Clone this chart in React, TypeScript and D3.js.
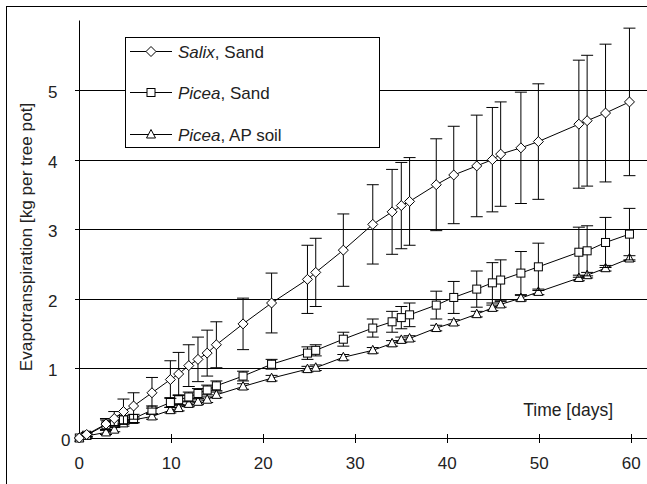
import React from "react";
import * as d3 from "d3";

const days = [0, 0.8, 2.9, 3.8, 4.8, 5.9, 7.9, 9.9, 10.8, 11.9, 12.9, 13.9, 14.9, 17.8, 20.9, 24.8, 25.7, 28.7, 31.9, 34.0, 35.0, 35.9, 38.8, 40.7, 43.2, 44.9, 45.8, 48.0, 49.9, 54.3, 55.2, 57.2, 59.8];

const salixSand = [0, 0.05, 0.2, 0.28, 0.38, 0.46, 0.65, 0.84, 0.92, 1.04, 1.13, 1.22, 1.34, 1.64, 1.94, 2.28, 2.38, 2.7, 3.07, 3.25, 3.34, 3.4, 3.64, 3.78, 3.91, 4.0, 4.08, 4.17, 4.26, 4.51, 4.56, 4.67, 4.83];
const salixSandErr = [0, 0.03, 0.08, 0.1, 0.18, 0.19, 0.22, 0.27, 0.31, 0.3, 0.32, 0.33, 0.33, 0.37, 0.43, 0.49, 0.49, 0.52, 0.57, 0.61, 0.62, 0.63, 0.66, 0.7, 0.73, 0.75, 0.75, 0.8, 0.83, 0.92, 0.94, 0.99, 1.06];

const piceaSand = [0, 0.04, 0.19, 0.22, 0.26, 0.28, 0.4, 0.51, 0.55, 0.59, 0.64, 0.69, 0.75, 0.89, 1.06, 1.22, 1.26, 1.42, 1.58, 1.67, 1.73, 1.77, 1.91, 2.02, 2.14, 2.23, 2.27, 2.37, 2.46, 2.67, 2.69, 2.81, 2.93];
const piceaSandErr = [0, 0.02, 0.07, 0.06, 0.06, 0.06, 0.06, 0.07, 0.07, 0.07, 0.07, 0.07, 0.07, 0.07, 0.07, 0.09, 0.08, 0.1, 0.13, 0.15, 0.16, 0.17, 0.2, 0.23, 0.26, 0.29, 0.29, 0.31, 0.34, 0.36, 0.36, 0.36, 0.37];

const piceaAP = [0, 0.03, 0.08, 0.12, 0.21, 0.26, 0.31, 0.4, 0.43, 0.49, 0.52, 0.55, 0.62, 0.74, 0.86, 0.99, 1.01, 1.16, 1.26, 1.36, 1.41, 1.43, 1.58, 1.66, 1.78, 1.87, 1.92, 2.01, 2.1, 2.3, 2.34, 2.44, 2.58];
const piceaAPErr = [0, 0.02, 0.03, 0.03, 0.04, 0.04, 0.04, 0.04, 0.04, 0.04, 0.04, 0.04, 0.04, 0.04, 0.04, 0.04, 0.04, 0.04, 0.04, 0.04, 0.04, 0.04, 0.04, 0.04, 0.04, 0.04, 0.04, 0.04, 0.04, 0.04, 0.04, 0.04, 0.04];

const xTicks = [0, 10, 20, 30, 40, 50, 60];
const yTicks = [0, 1, 2, 3, 4, 5];
const gridValues = [1, 2, 3, 4, 5];

const W = 647;
const H = 484;
const font = "'Liberation Sans', Arial, sans-serif";

const x = d3.scaleLinear().domain([0, 60]).range([79.3, 631.3]);
const y = d3.scaleLinear().domain([0, 6]).range([438, 20.5]);

function Marker({ kind, cx, cy }: { kind: string; cx: number; cy: number }) {
  if (kind === "diamond") {
    const r = 5;
    return (
      <polygon
        points={`${cx},${cy - r} ${cx + r},${cy} ${cx},${cy + r} ${cx - r},${cy}`}
        fill="#fff"
        stroke="#000"
        strokeWidth={1}
      />
    );
  }
  if (kind === "square") {
    return <rect x={cx - 4} y={cy - 4} width={8} height={8} fill="#fff" stroke="#000" strokeWidth={1} />;
  }
  return (
    <polygon
      points={`${cx},${cy - 5} ${cx + 4.5},${cy + 3.5} ${cx - 4.5},${cy + 3.5}`}
      fill="#fff"
      stroke="#000"
      strokeWidth={1}
    />
  );
}

function Series({ values, errs, kind }: { values: number[]; errs: number[]; kind: string }) {
  const line = d3
    .line<number>()
    .x((_, i) => x(days[i]))
    .y((d) => y(d));
  return (
    <g>
      {values.map((v, i) => {
        const e = errs[i];
        if (!e) return null;
        const cx = x(days[i]);
        return (
          <g key={i} stroke="#000" strokeWidth={1}>
            <line x1={cx} x2={cx} y1={y(v - e)} y2={y(v + e)} />
            <line x1={cx - 6} x2={cx + 6} y1={y(v + e)} y2={y(v + e)} />
            <line x1={cx - 6} x2={cx + 6} y1={y(v - e)} y2={y(v - e)} />
          </g>
        );
      })}
      <path d={line(values) || ""} fill="none" stroke="#000" strokeWidth={1} />
      {values.map((v, i) => (
        <Marker key={i} kind={kind} cx={x(days[i])} cy={y(v)} />
      ))}
    </g>
  );
}

const legendItems = [
  { kind: "diamond", name: "Salix", rest: ", Sand", cy: 51.5 },
  { kind: "square", name: "Picea", rest: ", Sand", cy: 92.5 },
  { kind: "triangle", name: "Picea", rest: ", AP soil", cy: 134.5 },
];

export default function App() {
  return (
    <svg
      width={W}
      height={H}
      style={{ position: "absolute", left: 0, top: 0, background: "#fff" }}
      fontFamily={font}
    >
      <rect x={0} y={0} width={W} height={H} fill="#fff" />
      <rect x={6.5} y={6.5} width={800} height={700} fill="none" stroke="#000" strokeWidth={1} />

      {/* gridlines */}
      {gridValues.map((v) => (
        <line key={v} x1={x(0)} x2={W} y1={Math.round(y(v)) + 0.5} y2={Math.round(y(v)) + 0.5} stroke="#000" strokeWidth={1} />
      ))}

      {/* axes */}
      <line x1={79.5} x2={79.5} y1={y(6)} y2={y(0)} stroke="#000" />
      <line x1={x(0)} x2={W} y1={438.5} y2={438.5} stroke="#000" />
      {yTicks.map((v) => (
        <line key={v} x1={75} x2={79.5} y1={Math.round(y(v)) + 0.5} y2={Math.round(y(v)) + 0.5} stroke="#000" />
      ))}
      {xTicks.slice(1).map((t) => (
        <line key={t} x1={Math.round(x(t)) + 0.5} x2={Math.round(x(t)) + 0.5} y1={434} y2={443} stroke="#000" />
      ))}
      {yTicks.map((v) => (
        <text
          key={v}
          x={v === 0 ? 70.5 : 57.5}
          y={y(v) + 8}
          textAnchor="end"
          fontSize={17}
          fill="#222"
        >
          {v}
        </text>
      ))}
      {xTicks.map((t) => (
        <text key={t} x={x(t)} y={469} textAnchor="middle" fontSize={17} fill="#222">
          {t}
        </text>
      ))}
      <text x={613} y={416} textAnchor="end" fontSize={17.5} fill="#222">
        Time [days]
      </text>
      <text
        x={32}
        y={237}
        transform="rotate(-90, 32, 237)"
        textAnchor="middle"
        fontSize={17.2}
        fill="#222"
      >
        Evapotranspiration [kg per tree pot]
      </text>

      <Series values={piceaAP} errs={piceaAPErr} kind="triangle" />
      <Series values={piceaSand} errs={piceaSandErr} kind="square" />
      <Series values={salixSand} errs={salixSandErr} kind="diamond" />

      {/* legend */}
      <rect x={125.5} y={37.5} width={254} height={110} fill="#fff" stroke="#000" strokeWidth={1} />
      {legendItems.map((d) => (
        <g key={d.cy}>
          <line x1={130} x2={172} y1={d.cy} y2={d.cy} stroke="#000" />
          <Marker kind={d.kind} cx={151} cy={d.cy} />
          <text x={178} y={d.cy + 6.5} fontSize={17} fill="#222">
            <tspan fontStyle="italic">{d.name}</tspan>
            {d.rest}
          </text>
        </g>
      ))}
    </svg>
  );
}
